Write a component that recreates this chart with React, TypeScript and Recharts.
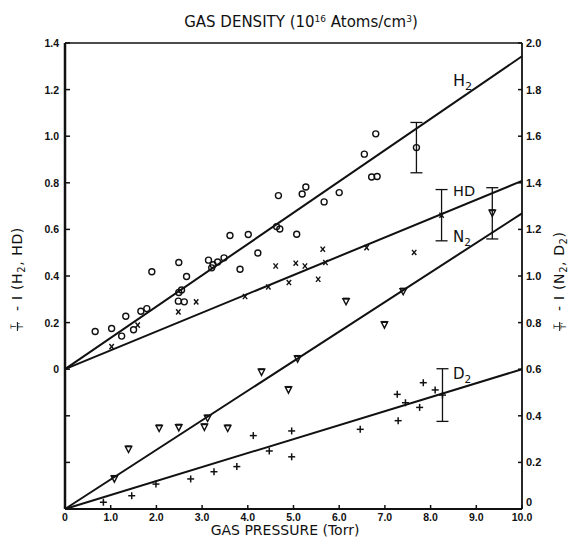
import React from 'react';
import {
  ScatterChart,
  Scatter,
  XAxis,
  YAxis,
  ErrorBar,
  ReferenceLine,
  ReferenceDot,
  Customized,
} from 'recharts';

// ---------- ticks ----------
const pressureTicks = [0, 1, 2, 3, 4, 5, 6, 7, 8, 9, 10];
const densityTicks = [5, 10, 15, 20];
const leftTicks = [-0.4, -0.2, 0, 0.2, 0.4, 0.6, 0.8, 1.0, 1.2, 1.4];
const rightTicks = [0, 0.2, 0.4, 0.6, 0.8, 1.0, 1.2, 1.4, 1.6, 1.8, 2.0];

// ---------- data: [pressure (Torr), T/T' - 1] ----------
const h2Points: number[][] = [
  [0.66, 0.162], [1.02, 0.175], [1.24, 0.142], [1.33, 0.227], [1.5, 0.169],
  [1.66, 0.249], [1.79, 0.26], [1.9, 0.418], [2.48, 0.292], [2.49, 0.329],
  [2.49, 0.458], [2.55, 0.34], [2.61, 0.289], [2.66, 0.398], [3.14, 0.468],
  [3.21, 0.435], [3.24, 0.448], [3.34, 0.46], [3.48, 0.478], [3.61, 0.574],
  [3.83, 0.429], [4.01, 0.578], [4.22, 0.499], [4.63, 0.612], [4.67, 0.745],
  [4.7, 0.602], [5.07, 0.579], [5.19, 0.752], [5.27, 0.782], [5.67, 0.718],
  [6.0, 0.758], [6.55, 0.923], [6.71, 0.825], [6.8, 1.01], [6.83, 0.827],
];
const hdPoints: number[][] = [
  [1.02, 0.097], [1.59, 0.189], [2.48, 0.246], [2.87, 0.289], [3.94, 0.312],
  [4.45, 0.353], [4.61, 0.443], [4.9, 0.372], [5.05, 0.455], [5.25, 0.443],
  [5.54, 0.386], [5.64, 0.515], [5.7, 0.458], [6.6, 0.522], [7.64, 0.501],
];
const n2Points: number[][] = [
  [1.08, 0.129], [1.39, 0.256], [2.06, 0.346], [2.49, 0.349], [3.05, 0.351],
  [3.12, 0.389], [3.56, 0.346], [4.3, 0.587], [4.89, 0.511], [5.09, 0.644],
  [6.15, 0.89], [6.99, 0.79], [7.4, 0.933],
];
const d2Points: number[][] = [
  [0.84, 0.029], [1.46, 0.057], [1.99, 0.107], [2.75, 0.129], [3.26, 0.16],
  [3.76, 0.182], [4.12, 0.315], [4.47, 0.249], [4.96, 0.335], [4.96, 0.224],
  [6.46, 0.342], [7.27, 0.492], [7.29, 0.379], [7.45, 0.456], [7.76, 0.436],
  [7.84, 0.542], [8.1, 0.511],
];

// [pressure, value, error]
const h2ErrorPoint: number[][] = [[7.69, 0.951, 0.108]];
const hdErrorPoint: number[][] = [[8.24, 0.661, 0.11]];
const n2ErrorPoint: number[][] = [[9.35, 1.269, 0.11]];
const d2ErrorPoint: number[][] = [[8.26, 0.489, 0.113]];

// fitted straight lines [pressure, value]
const h2Fit: number[][] = [[0, 0], [10, 1.343]];
const hdFit: number[][] = [[0, 0], [10, 0.808]];
const n2Fit: number[][] = [[0, 0], [10, 1.269]];
const d2Fit: number[][] = [[0, 0], [10, 0.6]];

const lineLabelNames = ['H', 'HD', 'N', 'D'];
const lineLabelSubs = ['2', '', '2', '2'];
const lineLabelAt: number[][] = [[8.49, 1.215], [8.49, 0.742], [8.49, 1.146], [8.49, 0.558]];
const lineLabelAxis = ['L', 'L', 'R', 'R'];

const toXY = (a: number[][]) => a.map(([x, y]) => ({ x, y }));
const toXYE = (a: number[][]) => a.map(([x, y, e]) => ({ x, y, e }));
const seg = (a: number[][]) => a.map(([x, y]) => ({ x, y }));

const INK = '#111';
const TICK_FONT = '"Liberation Sans", Arial, sans-serif';
const TITLE_FONT = '"DejaVu Sans", "Liberation Sans", sans-serif';

// ---------- markers ----------
const CircleMark = (p: any) => (
  <circle cx={p.cx} cy={p.cy} r={3} fill="none" stroke={INK} strokeWidth={1.4} />
);
const CrossMark = (p: any) => (
  <g stroke={INK} strokeWidth={1.4}>
    <line x1={p.cx - 2.2} y1={p.cy - 2.6} x2={p.cx + 2.2} y2={p.cy + 2.6} />
    <line x1={p.cx + 2.2} y1={p.cy - 2.6} x2={p.cx - 2.2} y2={p.cy + 2.6} />
  </g>
);
const TriMark = (p: any) => (
  <g>
    <path
      d={`M${p.cx - 3.2},${p.cy - 3} L${p.cx + 3.2},${p.cy - 3} L${p.cx},${p.cy + 3.2} Z`}
      fill="none"
      stroke={INK}
      strokeWidth={1.4}
    />
    <line x1={p.cx - 3.2} x2={p.cx + 3.2} y1={p.cy - 3} y2={p.cy - 3} stroke={INK} strokeWidth={2} />
  </g>
);
const PlusMark = (p: any) => (
  <g stroke={INK} strokeWidth={1.5}>
    <line x1={p.cx - 3.5} y1={p.cy} x2={p.cx + 3.5} y2={p.cy} />
    <line x1={p.cx} y1={p.cy - 3.5} x2={p.cx} y2={p.cy + 3.5} />
  </g>
);

// ---------- ticks (inward tick marks) ----------
const fmt = (v: number) => (Math.abs(v) < 1e-9 ? '0' : v.toFixed(1));

const LeftTick = ({ x, y, payload }: any) => {
  const v = payload.value;
  return (
    <g>
      <line x1={x} x2={x + 5} y1={y} y2={y} stroke={INK} strokeWidth={1.5} />
      {v > -0.01 && (
        <text x={x - 6} y={y + 4} textAnchor="end" fontSize={10.5} fontWeight="bold" fontFamily={TICK_FONT} fill={INK}>
          {fmt(v)}
        </text>
      )}
    </g>
  );
};
const RightTick = ({ x, y, payload }: any) => {
  const v = payload.value;
  const ty = Math.abs(v) < 1e-9 ? y - 3 : y + 4;
  return (
    <g>
      <line x1={x} x2={x - 4} y1={y} y2={y} stroke={INK} strokeWidth={1.5} />
      <text x={x + 4} y={ty} textAnchor="start" fontSize={11} fontWeight="bold" fontFamily={TICK_FONT} fill={INK}>
        {fmt(v)}
      </text>
    </g>
  );
};
const BottomTick = ({ x, y, payload }: any) => {
  const v = payload.value;
  return (
    <g>
      <line x1={x} x2={x} y1={y} y2={y - 4} stroke={INK} strokeWidth={1.5} />
      <text x={x} y={y + 12} textAnchor="middle" fontSize={10.5} fontWeight="bold" fontFamily={TICK_FONT} fill={INK}>
        {fmt(v)}
      </text>
    </g>
  );
};
const TopTick = ({ x, y, payload }: any) => {
  const v = payload.value;
  return (
    <g>
      <line x1={x} x2={x} y1={y} y2={y + 5} stroke={INK} strokeWidth={1.2} />
      <text x={x} y={y - 2.5} textAnchor="middle" fontSize={10.5} fontWeight="bold" fontFamily={TICK_FONT} fill={INK}>
        {fmt(v)}
      </text>
    </g>
  );
};

// ---------- labels ----------
const makeLineLabel = (name: string, sub: string, size: number) => (props: any) => {
  const vb = props.viewBox || {};
  return (
    <text x={vb.x} y={vb.y} fontSize={size} fontFamily={TITLE_FONT} fill={INK}>
      {name}
      {sub && (
        <tspan dy={4} fontSize={size * 0.7}>
          {sub}
        </tspan>
      )}
    </text>
  );
};

const RotatedTitle = ({ ox, oy, a, b }: any) => (
  <g transform={`translate(${ox},${oy}) rotate(-90)`} fill={INK} fontFamily={TITLE_FONT}>
    <text x={6.5} y={-5.5} fontSize={7.5} textAnchor="middle">T</text>
    <line x1={2} x2={11} y1={-4.3} y2={-4.3} stroke={INK} strokeWidth={1} />
    <text x={7} y={1.5} fontSize={7.5} textAnchor="middle">T'</text>
    <text x={22} y={0} fontSize={14}>-</text>
    <text x={33} y={0} fontSize={14}>I</text>
    <text x={43} y={0} fontSize={14} letterSpacing={0.6}>
      ({a}
      <tspan dy={3} fontSize={10}>2</tspan>
      <tspan dy={-3}>, {b}</tspan>
      {b !== 'HD' && <tspan dy={3} fontSize={10}>2</tspan>}
      <tspan dy={b !== 'HD' ? -3 : 0}>)</tspan>
    </text>
  </g>
);

const Titles = () => (
  <g fill={INK} fontFamily={TITLE_FONT}>
    <text x={301} y={27} fontSize={15} textAnchor="middle">
      GAS DENSITY (10
      <tspan dy={-5} fontSize={9}>16</tspan>
      <tspan dy={5}> Atoms/cm</tspan>
      <tspan dy={-5} fontSize={9}>3</tspan>
      <tspan dy={5}>)</tspan>
    </text>
    <text x={285} y={535} fontSize={14} textAnchor="middle">
      GAS PRESSURE (Torr)
    </text>
    <RotatedTitle ox={21.7} oy={333} a="H" b="HD" />
    <RotatedTitle ox={564} oy={333} a="N" b="D" />
  </g>
);

export default function App() {
  return (
    <div style={{ position: 'absolute', left: 0, top: 0, width: 569, height: 540, background: '#fff' }}>
      <ScatterChart width={569} height={540} margin={{ top: 13, right: 7, bottom: 6, left: 5 }}>
        <XAxis
          xAxisId={0}
          dataKey="x"
          type="number"
          domain={[0, 10]}
          ticks={pressureTicks}
          orientation="bottom"
          height={25}
          tickSize={0}
          tickMargin={0}
          tickLine={false}
          axisLine={{ stroke: INK, strokeWidth: 2 }}
          tick={<BottomTick />}
          interval={0}
        />
        <XAxis
          xAxisId="top"
          type="number"
          domain={[0.18, 24.1]}
          ticks={densityTicks}
          allowDataOverflow
          orientation="top"
          height={30}
          tickSize={0}
          tickMargin={0}
          tickLine={false}
          axisLine={{ stroke: INK, strokeWidth: 1.6 }}
          tick={<TopTick />}
          interval={0}
        />
        <YAxis
          yAxisId="L"
          dataKey="y"
          type="number"
          domain={[-0.6, 1.4]}
          ticks={leftTicks}
          allowDataOverflow
          orientation="left"
          width={60}
          tickSize={0}
          tickMargin={0}
          tickLine={false}
          axisLine={{ stroke: INK, strokeWidth: 2.5 }}
          tick={<LeftTick />}
          interval={0}
        />
        <YAxis
          yAxisId="R"
          dataKey="y"
          type="number"
          domain={[0, 2.0]}
          ticks={rightTicks}
          allowDataOverflow
          orientation="right"
          width={40}
          tickSize={0}
          tickMargin={0}
          tickLine={false}
          axisLine={{ stroke: INK, strokeWidth: 1.8 }}
          tick={<RightTick />}
          interval={0}
        />

        <ReferenceLine yAxisId="L" segment={seg(h2Fit)} stroke={INK} strokeWidth={2} ifOverflow="visible" />
        <ReferenceLine yAxisId="L" segment={seg(hdFit)} stroke={INK} strokeWidth={2} ifOverflow="visible" />
        <ReferenceLine yAxisId="R" segment={seg(n2Fit)} stroke={INK} strokeWidth={2} ifOverflow="visible" />
        <ReferenceLine yAxisId="R" segment={seg(d2Fit)} stroke={INK} strokeWidth={2} ifOverflow="visible" />

        <Scatter name="H2" yAxisId="L" data={toXY(h2Points)} shape={CircleMark} isAnimationActive={false} />
        <Scatter name="HD" yAxisId="L" data={toXY(hdPoints)} shape={CrossMark} isAnimationActive={false} />
        <Scatter name="N2" yAxisId="R" data={toXY(n2Points)} shape={TriMark} isAnimationActive={false} />
        <Scatter name="D2" yAxisId="R" data={toXY(d2Points)} shape={PlusMark} isAnimationActive={false} />

        <Scatter name="H2e" yAxisId="L" data={toXYE(h2ErrorPoint)} shape={CircleMark} isAnimationActive={false}>
          <ErrorBar dataKey="e" direction="y" width={6} stroke={INK} strokeWidth={1.3} isAnimationActive={false} />
        </Scatter>
        <Scatter name="HDe" yAxisId="L" data={toXYE(hdErrorPoint)} shape={CrossMark} isAnimationActive={false}>
          <ErrorBar dataKey="e" direction="y" width={6} stroke={INK} strokeWidth={1.3} isAnimationActive={false} />
        </Scatter>
        <Scatter name="N2e" yAxisId="R" data={toXYE(n2ErrorPoint)} shape={TriMark} isAnimationActive={false}>
          <ErrorBar dataKey="e" direction="y" width={6} stroke={INK} strokeWidth={1.3} isAnimationActive={false} />
        </Scatter>
        <Scatter name="D2e" yAxisId="R" data={toXYE(d2ErrorPoint)} shape={PlusMark} isAnimationActive={false}>
          <ErrorBar dataKey="e" direction="y" width={6} stroke={INK} strokeWidth={1.3} isAnimationActive={false} />
        </Scatter>

        {lineLabelNames.map((n, i) => (
          <ReferenceDot
            key={n}
            yAxisId={lineLabelAxis[i]}
            x={lineLabelAt[i][0]}
            y={lineLabelAt[i][1]}
            r={0}
            fill="none"
            stroke="none"
            ifOverflow="visible"
            label={{ content: makeLineLabel(n, lineLabelSubs[i], i === 0 ? 16 : i === 1 ? 14.5 : 15) }}
          />
        ))}

        <Customized component={Titles} />
      </ScatterChart>
    </div>
  );
}
